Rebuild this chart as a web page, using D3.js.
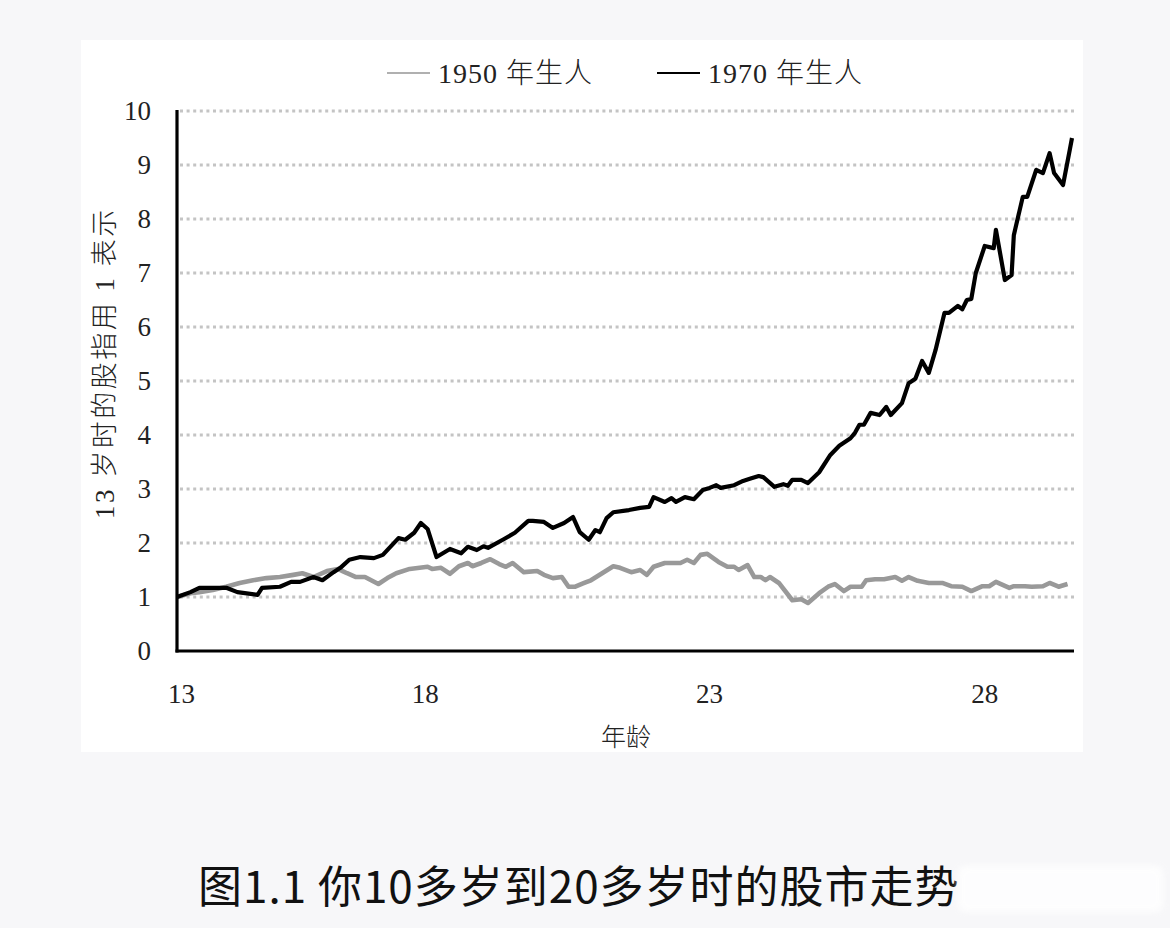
<!DOCTYPE html>
<html>
<head>
<meta charset="utf-8">
<script src="https://cdn.jsdelivr.net/npm/d3@7"></script>
<style>
  html, body { margin: 0; padding: 0; background: #f7f7f9; }
  svg { display: block; }
</style>
</head>
<body>
<div id="chart"></div>
<script>
// months since age 13, index value (13 岁 = 1)
const born1950 = [
  [0, 1.00], [3, 1.07], [5, 1.09], [8, 1.13], [11, 1.19], [14, 1.26], [17, 1.31], [20, 1.35],
  [23, 1.37], [26, 1.41], [28, 1.44], [30.5, 1.37], [33.5, 1.48], [36, 1.52], [37, 1.48], [38, 1.44],
  [40, 1.37], [42, 1.37], [45, 1.24], [47, 1.35], [49, 1.44], [52, 1.52], [56, 1.56], [57, 1.52],
  [59, 1.54], [61, 1.43], [63, 1.57], [65, 1.63], [66, 1.57], [68, 1.63], [70, 1.70], [72, 1.61],
  [73.5, 1.56], [75, 1.63], [77.5, 1.46], [80.5, 1.48], [82, 1.41], [84, 1.35], [86, 1.37], [87.5, 1.19],
  [89, 1.19], [91, 1.26], [92.5, 1.31], [95, 1.44], [97.5, 1.57], [99, 1.54], [101.5, 1.46], [103.5, 1.50],
  [105, 1.41], [106.5, 1.56], [109, 1.63], [112.5, 1.63], [114, 1.69], [115.5, 1.63], [117, 1.78], [118.5, 1.80],
  [121, 1.65], [123, 1.56], [124.5, 1.56], [125.5, 1.50], [127.5, 1.59], [129, 1.37], [130.5, 1.37], [131.5, 1.31],
  [132.5, 1.37], [134.5, 1.26], [137.5, 0.94], [139.5, 0.96], [141, 0.89], [143.5, 1.07], [145.5, 1.19], [147, 1.24],
  [149, 1.11], [150.5, 1.19], [153, 1.19], [154, 1.31], [156, 1.33], [158, 1.33], [160.5, 1.37], [162, 1.30],
  [163.5, 1.37], [165.5, 1.30], [168, 1.26], [171, 1.26], [173, 1.20], [175.5, 1.19], [177.5, 1.11], [180, 1.20],
  [181.5, 1.20], [183, 1.28], [186, 1.17], [187, 1.20], [189.5, 1.20], [191, 1.19], [193.5, 1.20], [195, 1.26],
  [197, 1.19], [199, 1.24]
]

const born1970 = [
  [0, 1.00], [3, 1.09], [5, 1.17], [8, 1.17], [11, 1.17], [13.5, 1.09], [18, 1.04], [19, 1.17],
  [23, 1.19], [25.5, 1.28], [27.5, 1.28], [30.5, 1.37], [32.5, 1.31], [35, 1.46], [36.5, 1.54], [38.5, 1.69],
  [41, 1.74], [44, 1.72], [46, 1.78], [49.5, 2.09], [51, 2.06], [53, 2.19], [54.5, 2.37], [56, 2.26],
  [58, 1.74], [61, 1.89], [63.5, 1.81], [65, 1.93], [67, 1.87], [68.5, 1.94], [69.5, 1.91], [73, 2.07],
  [75.5, 2.19], [78.5, 2.41], [79.5, 2.41], [82, 2.39], [84, 2.28], [86.5, 2.37], [88.5, 2.48], [90, 2.20],
  [92, 2.06], [93.5, 2.24], [94.5, 2.20], [96, 2.46], [97.5, 2.57], [101, 2.61], [103.5, 2.65], [105.5, 2.67],
  [106.5, 2.85], [109, 2.76], [110.5, 2.83], [111.5, 2.76], [113.5, 2.85], [115.5, 2.81], [117.5, 2.98], [119, 3.02],
  [120.5, 3.07], [121.5, 3.02], [124.5, 3.07], [126.5, 3.15], [128, 3.19], [130, 3.24], [131, 3.22], [133.5, 3.04],
  [135.5, 3.09], [136.5, 3.06], [137.5, 3.17], [139.5, 3.17], [141, 3.11], [143.5, 3.31], [146, 3.63], [148, 3.80],
  [150.5, 3.94], [151.5, 4.04], [152.5, 4.19], [153.5, 4.19], [155, 4.41], [157, 4.37], [158.5, 4.52], [159.5, 4.37],
  [162, 4.59], [163.5, 4.96], [165, 5.04], [166.5, 5.37], [168, 5.15], [169.5, 5.57], [171.5, 6.26], [172.5, 6.26],
  [174.5, 6.39], [175.5, 6.33], [176.5, 6.50], [177.5, 6.52], [178.5, 7.00], [180.5, 7.50], [182.5, 7.46], [183, 7.80],
  [185, 6.87], [186.5, 6.96], [187, 7.70], [189, 8.41], [190, 8.41], [192, 8.91], [193.5, 8.85], [195, 9.22],
  [196, 8.85], [198, 8.63], [199.5, 9.28], [200, 9.50]
]

const ageTicks = [[1, "13"], [55.5, "18"], [119, "23"], [180.5, "28"]]
const yTicks = [0, 1, 2, 3, 4, 5, 6, 7, 8, 9, 10]
const seriesNames = ["1950 年生人", "1970 年生人"]
const seriesColors = ["#999999", "#000000"]

const width = 1170
const height = 928
const margin = { left: 177, right: 98, top: 111, bottom: 277 }
const serif = "'Liberation Serif', 'DejaVu Serif', serif"
const mixed = "'Liberation Serif', 'Noto Sans CJK SC', serif"
const cjk = "'Noto Sans CJK SC', sans-serif"

const svg = d3.select("#chart")
    .append("svg")
    .attr("width", width)
    .attr("height", height)

// white panel
svg.append("rect")
    .attr("x", 81).attr("y", 40)
    .attr("width", 1002).attr("height", 712)
    .attr("fill", "#fff")

const x = d3.scaleLinear()
    .domain([0, 200])
    .range([margin.left, width - margin.right])

const y = d3.scaleLinear()
    .domain([0, 10])
    .range([height - margin.bottom, margin.top])

// dotted grid
svg.append("g")
    .selectAll("line")
    .data(yTicks.filter(d => d > 0))
    .join("line")
    .attr("x1", x(0) + 3)
    .attr("x2", x(200) + 2)
    .attr("y1", d => y(d))
    .attr("y2", d => y(d))
    .attr("stroke", "#c4c4c4")
    .attr("stroke-width", 3)
    .attr("stroke-dasharray", "3,3.6")

// y tick labels
svg.append("g")
    .selectAll("text")
    .data(yTicks)
    .join("text")
    .attr("x", 151)
    .attr("y", d => y(d))
    .attr("dy", "0.35em")
    .attr("text-anchor", "end")
    .attr("font-family", serif)
    .attr("font-size", 27)
    .attr("fill", "#222")
    .text(d => d)

// x tick labels
svg.append("g")
    .selectAll("text")
    .data(ageTicks)
    .join("text")
    .attr("x", d => x(d[0]))
    .attr("y", 694)
    .attr("dy", "0.35em")
    .attr("text-anchor", "middle")
    .attr("font-family", serif)
    .attr("font-size", 27)
    .attr("fill", "#222")
    .text(d => d[1])

const line = d3.line()
    .x(d => x(d[0]))
    .y(d => y(d[1]))

svg.append("path")
    .datum(born1950)
    .attr("d", line)
    .attr("fill", "none")
    .attr("stroke", seriesColors[0])
    .attr("stroke-width", 4.6)
    .attr("stroke-linejoin", "round")

svg.append("path")
    .datum(born1970)
    .attr("d", line)
    .attr("fill", "none")
    .attr("stroke", seriesColors[1])
    .attr("stroke-width", 4.2)
    .attr("stroke-linejoin", "round")

// axes lines
svg.append("line")
    .attr("x1", x(0)).attr("x2", x(0))
    .attr("y1", y(10) - 1).attr("y2", y(0) + 1.5)
    .attr("stroke", "#000").attr("stroke-width", 3.2)
svg.append("line")
    .attr("x1", x(0) - 1.5).attr("x2", x(200) + 2)
    .attr("y1", y(0)).attr("y2", y(0))
    .attr("stroke", "#000").attr("stroke-width", 3.2)

// axis titles
svg.append("text")
    .attr("x", 626)
    .attr("y", 737)
    .attr("dy", "0.35em")
    .attr("text-anchor", "middle")
    .attr("font-family", cjk)
    .attr("font-weight", 300)
    .attr("font-size", 25)
    .attr("fill", "#222")
    .text("年龄")

svg.append("text")
    .attr("transform", "translate(105,363) rotate(-90)")
    .attr("dy", "0.35em")
    .attr("text-anchor", "middle")
    .attr("font-family", mixed)
    .attr("font-weight", 300)
    .attr("font-size", 27)
    .attr("letter-spacing", 2.5)
    .attr("fill", "#222")
    .text("13 岁时的股指用 1 表示")

// legend
const legend = svg.append("g")
    .selectAll("g")
    .data(seriesNames)
    .join("g")
    .attr("transform", (d, i) => `translate(${387 + i * 270},73)`)

legend.append("line")
    .attr("x1", 0).attr("x2", 43)
    .attr("y1", 0).attr("y2", 0)
    .attr("stroke", (d, i) => i === 0 ? "#b0b0b0" : "#000")
    .attr("stroke-width", 2)

legend.append("text")
    .attr("x", 51)
    .attr("dy", "0.35em")
    .attr("font-family", mixed)
    .attr("font-weight", 300)
    .attr("font-size", 28)
    .attr("letter-spacing", 1)
    .attr("fill", "#222")
    .text(d => d)

// caption
svg.append("text")
    .attr("x", 198)
    .attr("y", 888)
    .attr("dy", "0.35em")
    .attr("font-family", cjk)
    .attr("font-weight", 400)
    .attr("font-size", 44)
    .attr("letter-spacing", 1)
    .attr("fill", "#111")
    .text("图1.1 你10多岁到20多岁时的股市走势")

// faded watermark over caption end
const defs = svg.append("defs")
defs.append("filter").attr("id", "blur")
    .append("feGaussianBlur").attr("stdDeviation", 3)
svg.append("rect")
    .attr("x", 958).attr("y", 866)
    .attr("width", 205).attr("height", 46)
    .attr("rx", 8)
    .attr("fill", "#ffffff")
    .attr("opacity", 0.85)
    .attr("filter", "url(#blur)")
</script>
</body>
</html>
